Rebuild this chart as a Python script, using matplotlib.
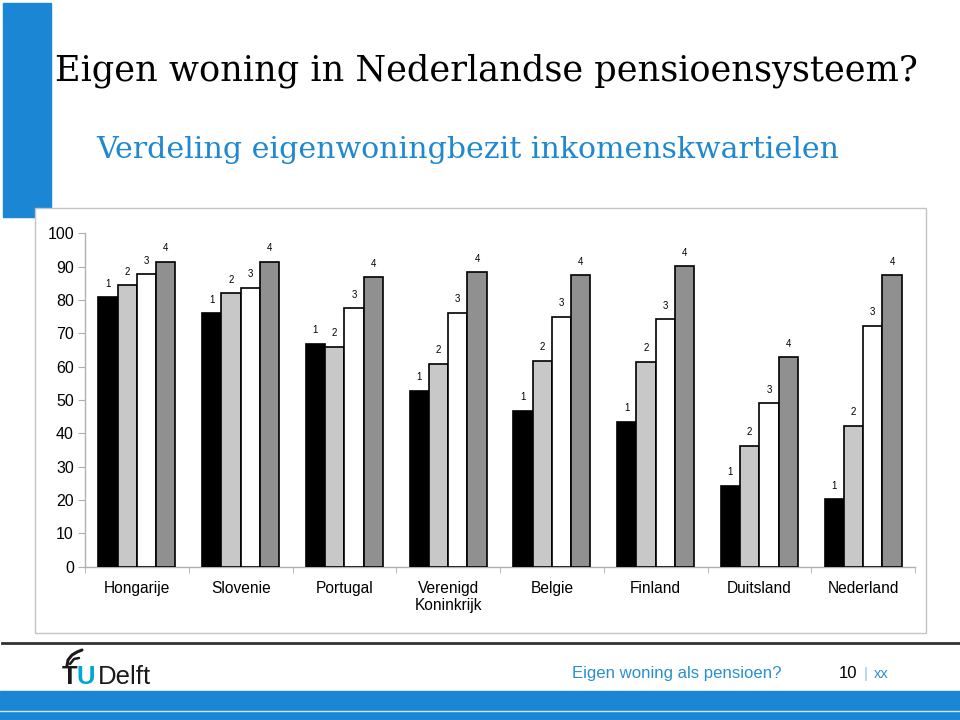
import matplotlib
matplotlib.use('Agg')
import matplotlib.pyplot as plt
import numpy as np
from matplotlib.patches import Rectangle
from matplotlib.lines import Line2D

# Data: home ownership share per income quartile (1 = lowest .. 4 = highest)
countries = ['Hongarije', 'Slovenie', 'Portugal', 'Verenigd\nKoninkrijk',
             'Belgie', 'Finland', 'Duitsland', 'Nederland']
q1 = [80.8, 76.0, 66.9, 52.8, 46.8, 43.5, 24.3, 20.3]
q2 = [84.4, 82.0, 66.0, 60.9, 61.8, 61.5, 36.3, 42.3]
q3 = [87.8, 83.7, 77.6, 76.2, 75.0, 74.3, 49.1, 72.3]
q4 = [91.5, 91.5, 86.8, 88.4, 87.4, 90.1, 62.9, 87.4]
quartile_labels = ['1', '2', '3', '4']
yticks = [0, 10, 20, 30, 40, 50, 60, 70, 80, 90, 100]

W, H = 960, 720
BLUE = '#1b86d3'


def fx(x):
    return x / W


def fy(y):
    return 1 - y / H


fig = plt.figure(figsize=(9.6, 7.2), dpi=100)

# slide decoration
fig.patches.append(Rectangle((fx(3), fy(217)), fx(51) - fx(3), fy(3) - fy(217),
                             transform=fig.transFigure, color=BLUE, zorder=0))
fig.patches.append(Rectangle((fx(35), fy(633)), fx(926) - fx(35), fy(208) - fy(633),
                             transform=fig.transFigure, facecolor='white',
                             edgecolor='#c4c4c4', lw=1, zorder=1))
fig.lines.append(Line2D([fx(2), fx(960)], [fy(643), fy(643)], transform=fig.transFigure,
                        color='#333333', lw=2))
fig.patches.append(Rectangle((0, 0), 1, fy(691), transform=fig.transFigure,
                             color=BLUE, zorder=0))
fig.lines.append(Line2D([0, 1], [fy(711), fy(711)], transform=fig.transFigure,
                        color='#cfe6f7', lw=1))

fig.text(fx(55), fy(80), 'Eigen woning in Nederlandse pensioensysteem?',
         family='DejaVu Serif', fontsize=25.3, color='black', va='baseline')
fig.text(fx(96), fy(158), 'Verdeling eigenwoningbezit inkomenskwartielen',
         family='DejaVu Serif', fontsize=21.6, color='#1f88cf', va='baseline')

# footer logo
fig.text(fx(62), fy(684), 'T', family='Liberation Sans', fontsize=18.5,
         fontweight='bold', color='#1a1a1a', va='baseline')
fig.text(fx(77), fy(684), 'U', family='Liberation Sans', fontsize=18.5,
         fontweight='bold', color='#00a6d6', va='baseline')
fig.text(fx(98), fy(684), 'Delft', family='Liberation Sans', fontsize=18.5,
         color='#1a1a1a', va='baseline')
fig.lines.append(Line2D(fx(np.array([67, 68, 72, 77, 82])),
                        fy(np.array([666, 660, 655, 652, 650])),
                        transform=fig.transFigure, color='#1a1a1a', lw=2.2,
                        solid_capstyle='round'))
fig.lines.append(Line2D(fx(np.array([70, 74, 79])), fy(np.array([664, 659, 658])),
                        transform=fig.transFigure, color='#1a1a1a', lw=1.8,
                        solid_capstyle='round'))

fig.text(fx(572), fy(678), 'Eigen woning als pensioen?', family='Liberation Sans',
         fontsize=12.1, color='#2a8fd0', va='baseline')
fig.text(fx(839), fy(678), '10', family='Liberation Sans', fontsize=12,
         color='black', va='baseline')
fig.text(fx(864), fy(678), '|', family='Liberation Sans', fontsize=11,
         color='#8cc4ea', va='baseline')
fig.text(fx(874), fy(678), 'xx', family='Liberation Sans', fontsize=10.5,
         color='#2a8fd0', va='baseline')

# chart
ax = fig.add_axes([fx(85), fy(566.7), fx(915) - fx(85), fy(233.3) - fy(566.7)], zorder=2)
ax.patch.set_alpha(0)

x = np.arange(len(countries))
bw = 0.186
series = [q1, q2, q3, q4]
colors = ['black', '#c8c8c8', 'white', '#909090']
for i, (vals, c, lab) in enumerate(zip(series, colors, quartile_labels)):
    pos = x + (i - 1.5) * bw
    ax.bar(pos, vals, width=bw, color=c, edgecolor='black', linewidth=1.2, zorder=3)
    for px, v in zip(pos, vals):
        ax.annotate(lab, (px, v), xytext=(0, 6), textcoords='offset points',
                    ha='center', va='bottom', fontsize=7, family='Liberation Sans')

ax.set_xlim(-0.5, len(countries) - 0.5)
ax.set_ylim(0, 100)
ax.set_yticks(yticks)
ax.set_yticklabels([str(t) for t in yticks], family='Liberation Sans', fontsize=11.5)
ax.set_xticks(x)
ax.set_xticklabels(countries, family='Liberation Sans', fontsize=11.2, linespacing=1.2)
ax.set_xticks(np.arange(len(countries) + 1) - 0.5, minor=True)
ax.tick_params(axis='x', which='major', length=0, pad=10)
ax.tick_params(axis='x', which='minor', length=4, color='#b0b0b0', direction='out')
ax.tick_params(axis='y', length=5, color='#b0b0b0', pad=3)
for s in ['top', 'right']:
    ax.spines[s].set_visible(False)
for s in ['left', 'bottom']:
    ax.spines[s].set_color('#b0b0b0')
    ax.spines[s].set_linewidth(1)

fig.savefig('out.png', dpi=100)
